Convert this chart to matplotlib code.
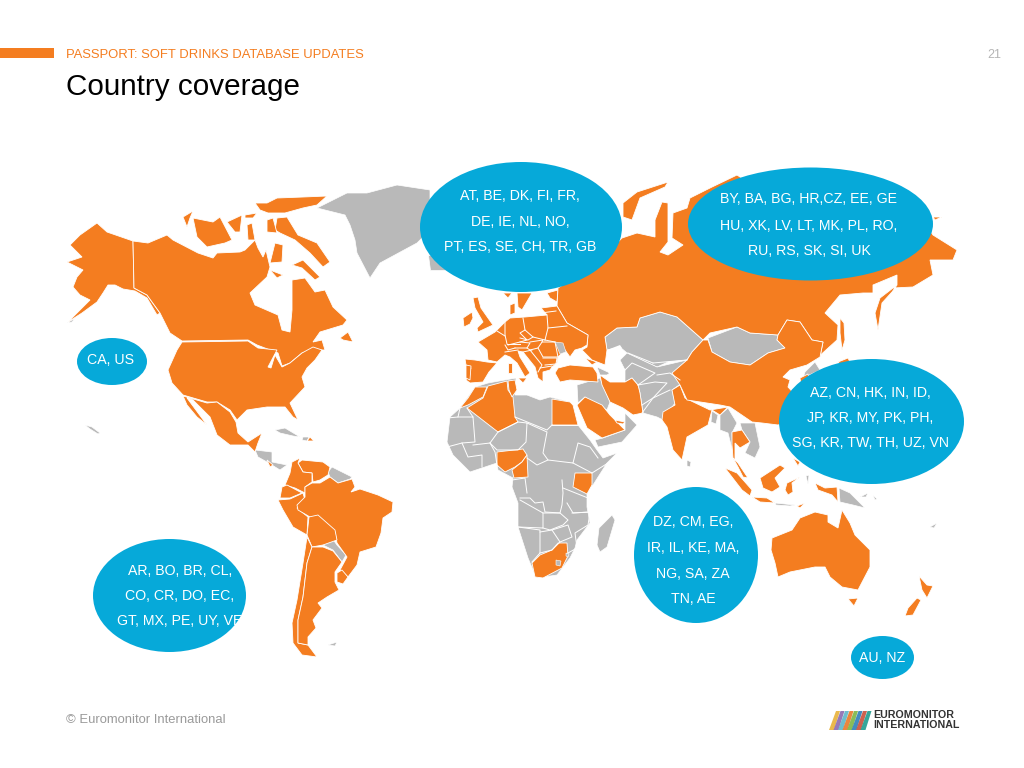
import matplotlib
matplotlib.use('Agg')
import matplotlib.pyplot as plt
from matplotlib.patches import Ellipse, Polygon, Rectangle

ORANGE = '#F47D20'
GREY = '#B9B9B9'
BLUE = '#06A9D9'

# map outlines in pixels
alaska = [(97,223),(107,232),(133,241),(134,288),(147,295),(160,313),(157,315),(147,298),(135,291),(123,289),(115,285),(108,285),(103,293),(97,302),(82,313),(68,322),(80,310),(90,300),(80,295),(73,287),(77,277),(83,270),(67,262),(82,257),(70,245),(80,235)]
canada = [(133,241),(148,243),(167,235),(173,240),(198,253),(213,258),(217,253),(240,252),(245,250),(255,240),(258,248),(263,257),(266,250),(270,267),(267,277),(250,293),(255,305),(278,315),(282,330),(290,332),(292,310),(292,280),(305,278),(315,292),(325,290),(333,307),(347,320),(343,325),(320,332),(313,342),(322,340),(325,350),(315,350),(302,353),(290,363),(282,366),(278,353),(257,345),(248,340),(182,341),(170,333),(160,313),(147,295),(134,288)]
usa = [(182,342),(248,341),(258,348),(277,350),(268,367),(271,368),(275,355),(282,367),(290,363),(302,353),(313,347),(322,350),(315,360),(307,368),(302,377),(305,387),(290,403),(298,420),(293,417),(285,407),(267,407),(247,410),(237,420),(230,410),(217,402),(207,402),(183,395),(172,383),(168,370),(177,350)]
mexico = [(183,396),(207,403),(217,402),(230,412),(236,422),(238,433),(248,442),(262,433),(258,443),(255,452),(248,445),(230,445),(217,435),(210,417),(193,400),(187,398),(207,425),(197,417),(187,405)]
ellesmere = [(255,203),(267,203),(277,198),(303,197),(327,196),(317,205),(303,208),(285,213),(268,213),(260,210)]
baffin = [(277,218),(287,217),(298,235),(317,243),(330,262),(323,267),(310,253),(295,240),(280,233),(275,230)]
baffin_south = [(292,265),(303,260),(320,277),(315,280),(302,268)]
banks = [(183,217),(193,211),(190,218),(187,227)]
victoria = [(193,218),(203,220),(213,222),(220,217),(232,240),(225,243),(207,247),(197,237)]
arctic_a = [(245,215),(257,213),(253,218),(245,218)]
arctic_b = [(227,222),(242,215),(240,232),(235,232)]
arctic_c = [(247,225),(252,223),(255,240),(248,240)]
arctic_d = [(267,220),(273,218),(277,233),(267,232)]
southampton = [(270,270),(283,275),(277,278)]
melville = [(275,243),(283,245),(282,262),(270,263)]
newfoundland = [(340,338),(348,332),(353,342),(343,340)]
dominican = [(310,437),(314,441),(307,441)]
costa_rica = [(267,460),(273,465),(270,467)]

venezuela = [(302,460),(323,462),(330,467),(328,475),(320,480),(313,482),(312,473),(303,472),(298,463)]
colombia = [(292,462),(300,458),(298,463),(303,472),(312,473),(312,482),(305,487),(305,493),(295,488),(285,485),(290,473)]
ecuador = [(282,487),(287,485),(302,493),(290,498),(280,498)]
peru = [(278,500),(290,499),(303,493),(305,500),(297,508),(308,517),(307,535),(293,527),(283,510)]
brazil = [(305,497),(305,487),(312,483),(320,483),(330,477),(338,483),(352,479),(355,487),(351,492),(360,489),(378,495),(393,502),(392,512),(383,518),(381,533),(376,547),(360,552),(357,565),(348,577),(340,570),(347,557),(337,543),(335,532),(320,518),(310,517),(298,510),(297,505)]
bolivia = [(309,517),(318,515),(335,530),(337,540),(323,545),(312,547),(307,535)]
chile = [(307,537),(312,547),(307,563),(303,597),(298,620),(298,643),(308,645),(317,657),(302,655),(293,643),(292,623),(297,600),(303,563)]
argentina = [(312,547),(323,547),(333,551),(342,562),(335,572),(335,582),(339,590),(327,597),(318,603),(322,608),(313,620),(316,628),(308,637),(308,645),(298,643),(298,620),(303,597),(307,563)]
uruguay = [(337,573),(342,570),(348,577),(343,584),(337,582)]

spain = [(465,359),(475,360),(487,362),(497,363),(489,372),(483,382),(470,383),(466,380),(471,368),(466,365)]
portugal = [(466,365),(471,366),(470,380),(466,378)]
europe_land = [(541,308),(557,306),(567,323),(588,335),(587,345),(582,348),(575,350),(570,357),(565,350),(558,357),(557,363),(552,367),(550,370),(543,372),(543,382),(538,378),(535,367),(523,352),(518,351),(520,357),(530,373),(525,377),(517,363),(510,357),(505,355),(497,362),(488,360),(487,350),(478,342),(495,332),(505,322),(510,318),(525,317),(547,315)]
britain = [(473,298),(478,297),(481,308),(488,318),(493,325),(478,332),(477,328),(483,322),(475,308)]
ireland = [(463,318),(472,312),(473,318),(470,324),(464,327)]
denmark = [(510,305),(515,303),(515,313),(510,315)]
sweden = [(517,293),(532,293),(522,310),(518,307)]
norway = [(503,293),(512,293),(508,298)]
finland = [(547,293),(558,290),(557,302),(550,298)]
sicily = [(518,378),(527,378),(523,383)]
sardinia = [(508,363),(512,363),(512,373),(508,373)]
turkey = [(558,368),(570,365),(593,367),(597,373),(598,382),(570,380),(560,382),(555,373)]
georgia = [(585,358),(597,362),(592,365)]
russia = [(558,288),(557,306),(567,323),(588,335),(587,347),(582,350),(592,360),(605,365),(607,350),(605,337),(617,328),(637,327),(640,318),(660,312),(677,317),(703,340),(710,333),(737,327),(750,333),(778,335),(787,320),(800,322),(812,340),(823,342),(820,357),(815,360),(837,340),(838,325),(825,313),(840,295),(863,293),(873,293),(873,285),(897,275),(897,285),(892,292),(882,303),(878,330),(875,313),(880,298),(893,288),(913,287),(933,275),(930,260),(953,260),(957,250),(933,235),(920,215),(850,200),(760,190),(737,175),(712,187),(690,198),(687,208),(673,213),(672,238),(683,245),(668,255),(660,252),(668,242),(668,203),(662,202),(655,220),(655,237),(637,233),(622,238),(600,260),(570,280)]
novaya = [(623,203),(637,192),(668,182),(665,187),(640,198),(632,220),(623,217)]
sakhalin = [(840,318),(844,323),(845,340),(842,350),(840,333)]
east_tip = [(933,217),(942,217),(935,220)]
hokkaido = [(838,362),(848,358),(850,362),(842,366)]
korea_south = [(800,378),(808,374),(811,390),(802,392)]

morocco = [(475,387),(487,387),(483,397),(468,405),(460,408),(468,398)]
algeria = [(488,386),(507,381),(508,390),(513,397),(515,417),(518,422),(498,432),(467,408),(483,398)]
tunisia = [(508,381),(515,380),(517,390),(512,397),(509,390)]
egypt = [(552,399),(570,402),(573,405),(578,425),(552,425)]
nigeria = [(497,452),(523,449),(527,455),(522,462),(515,467),(505,472),(497,465)]
cameroon = [(527,455),(528,477),(514,478),(512,470),(522,462)]
kenya = [(575,473),(592,473),(592,485),(587,494),(573,487)]
south_africa = [(540,555),(552,550),(558,543),(567,543),(568,556),(562,568),(543,578),(535,577),(532,563)]
iran = [(600,375),(610,382),(625,382),(632,378),(638,385),(640,393),(643,413),(633,415),(623,408),(610,402),(602,385)]
saudi = [(577,405),(585,397),(602,405),(610,415),(625,430),(602,438),(587,428)]
uae = [(615,420),(625,422),(623,424),(617,423)]
india = [(680,385),(685,398),(710,410),(728,407),(720,415),(712,410),(708,425),(687,437),(682,460),(673,450),(667,427),(662,420),(663,412),(675,405),(672,390)]
china = [(703,340),(708,340),(712,352),(730,362),(750,365),(768,353),(785,348),(777,340),(778,335),(787,320),(800,322),(812,340),(823,342),(820,357),(807,365),(790,370),(783,377),(790,380),(788,387),(800,400),(795,420),(778,425),(762,423),(752,422),(730,407),(720,405),(687,400),(680,385),(672,373),(687,360),(692,352)]
thailand = [(732,432),(742,430),(750,442),(740,448),(735,443),(735,460),(733,458),(732,445)]
malaya = [(733,458),(738,463),(748,478),(743,477),(738,467)]
sumatra = [(725,468),(737,473),(752,490),(750,496),(742,490)]
java = [(752,497),(767,498),(775,503),(760,502)]
borneo = [(760,478),(780,465),(785,468),(775,478),(780,487),(772,492),(763,488)]
sulawesi = [(787,483),(800,477),(792,483),(793,492),(788,495),(785,490)]
philippines = [(793,458),(800,462),(798,466)]
papua = [(815,483),(825,488),(837,487),(838,502),(832,495),(818,490)]
timor = [(797,506),(805,503),(800,508)]
australia = [(772,538),(792,530),(800,518),(815,512),(828,515),(828,522),(838,528),(842,510),(850,523),(855,535),(870,550),(870,567),(858,590),(842,587),(830,577),(825,567),(815,567),(790,572),(778,577),(775,563),(771,550)]
tasmania = [(848,599),(858,598),(854,606)]
nz_north = [(919,576),(927,585),(933,586),(927,598),(922,590)]
nz_south = [(917,598),(921,600),(913,615),(905,616),(908,608)]

greenland = [(317,208),(347,193),(367,193),(397,185),(430,190),(430,230),(417,243),(380,263),(370,278),(357,253),(355,240),(350,225),(345,215)]
iceland = [(428,255),(445,255),(445,270),(430,270)]
kazakhstan = [(605,337),(617,328),(637,327),(640,318),(660,312),(677,317),(703,340),(692,352),(687,360),(668,362),(657,367),(627,353),(620,347),(607,350)]
central_asia = [(620,360),(627,353),(657,367),(687,360),(675,373),(682,383),(672,390),(675,403),(665,417),(663,420),(657,417),(643,413),(640,393),(638,385),(632,378),(625,382),(625,370)]
mongolia = [(708,338),(737,327),(750,333),(778,335),(777,340),(785,348),(768,353),(750,365),(730,362),(712,352)]
levant = [(577,385),(600,378),(610,402),(607,410),(592,402),(585,397),(578,403)]
caucasus = [(597,367),(610,373),(607,375),(600,375)]
arabia_south = [(625,413),(637,425),(622,442),(598,447),(595,440),(603,438),(625,430)]
moldova = [(555,342),(563,343),(566,352),(560,354)]
africa = [(460,408),(450,417),(447,442),(453,455),(470,472),(497,463),(498,470),(513,478),(512,487),(518,503),(518,527),(528,558),(533,570),(537,578),(557,575),(570,558),(575,548),(577,540),(590,523),(587,507),(587,490),(593,485),(607,463),(617,453),(603,458),(597,450),(590,440),(578,425),(573,405),(570,402),(550,397),(540,400),(527,395),(515,395),(516,378),(488,383),(475,387)]
madagascar = [(612,515),(615,520),(607,547),(600,552),(597,545),(599,528)]
guyanas = [(328,472),(332,467),(352,477),(350,479),(338,483),(330,477)]
paraguay = [(323,545),(332,538),(337,545),(346,555),(342,562),(333,550)]
falklands = [(328,645),(337,642),(335,646)]
central_america = [(255,450),(272,452),(272,462),(287,465),(280,470),(267,462),(258,457)]
cuba = [(275,430),(285,428),(300,437),(293,436),(280,433)]
haiti = [(303,437),(309,437),(307,441),(302,440)]
nepal = [(687,402),(708,410),(706,412),(688,406)]
bangladesh = [(712,411),(718,415),(716,424),(711,422)]
myanmar = [(720,415),(728,408),(737,423),(732,433),(733,453),(728,433),(720,430)]
indochina = [(740,423),(755,423),(760,447),(755,458),(745,453),(750,442),(742,430)]
sri_lanka = [(687,460),(691,462),(690,467),(687,466)]
north_korea = [(805,372),(815,362),(820,370),(803,378)]
png = [(839,488),(850,493),(865,508),(853,505),(840,502)]
sunda = [(775,503),(795,505),(790,506),(776,505)]
maluku = [(806,476),(809,475),(808,484)]
new_britain = [(860,497),(868,493),(866,497)]
solomon = [(873,495),(877,499),(875,500)]
new_caledonia = [(930,527),(937,523),(934,528)]
hawaii = [(85,425),(92,427),(100,433),(98,434),(90,429)]
aleutians = [(67,323),(75,318),(72,322)]
lesotho = [(556,560),(561,561),(560,566),(556,565)]
swaziland = [(566,553),(569,554),(568,557),(566,556)]
caspian = [(607,350),(620,345),(622,348),(613,357),(620,363),(625,370),(623,382),(612,382),(607,368)]

# country borders inside Europe
eu_a = [(505,322),(505,335),(507,344)]
eu_b = [(497,331),(505,336)]
eu_c = [(523,318),(525,330),(520,333),(527,340),(520,342)]
eu_d = [(507,344),(520,344)]
eu_e = [(547,315),(548,328),(545,340)]
eu_f = [(525,330),(533,337),(545,340)]
eu_g = [(520,338),(528,340),(533,337)]
eu_h = [(508,345),(520,342),(530,343),(527,348),(515,348)]
eu_i = [(505,345),(508,350),(515,348)]
eu_j = [(505,352),(518,350)]
eu_k = [(530,342),(543,340),(542,342),(538,348),(530,350),(527,348)]
eu_l = [(542,342),(555,342),(558,357),(543,357),(538,348)]
eu_m = [(543,358),(557,358),(556,364),(545,365)]
eu_n = [(530,350),(542,365),(538,372)]
eu_o = [(523,352),(532,350)]
eu_p = [(540,368),(552,366)]
eu_q = [(548,328),(567,326)]
eu_r = [(541,313),(556,311)]
eu_s = [(545,340),(555,342)]

# country borders on the grey land
af_a = [(460,408),(458,417),(447,418)]
af_b = [(458,417),(473,417),(475,442),(462,443),(447,447)]
af_c = [(467,408),(473,417)]
af_d = [(498,432),(490,443),(473,445)]
af_e = [(498,432),(518,422),(527,423),(526,442),(518,450),(497,450),(490,443)]
af_f = [(515,417),(547,430),(552,425)]
af_g = [(527,423),(547,432),(543,453),(548,460),(537,465),(527,458)]
af_h = [(552,425),(578,425)]
af_i = [(548,460),(573,463),(578,443),(590,447),(598,458)]
af_j = [(573,463),(592,473),(608,463)]
af_k = [(462,443),(468,457),(482,455),(482,467)]
af_l = [(490,443),(495,452),(497,465)]
af_m = [(512,480),(525,478),(527,493)]
af_n = [(520,498),(530,498),(535,503),(543,502),(545,512),(560,513),(562,505),(563,493),(562,480)]
af_o = [(520,500),(543,513),(543,528),(518,527)]
af_p = [(543,513),(560,513),(568,520),(563,525),(550,530),(543,528)]
af_q = [(518,527),(540,530),(540,553),(532,562)]
af_r = [(540,532),(552,530),(560,542),(552,550),(540,553)]
af_s = [(552,530),(568,525),(572,537),(560,542)]
af_t = [(563,488),(588,498),(590,512),(573,513),(567,503)]
af_u = [(572,513),(590,512),(588,525),(575,533),(577,548),(568,553)]
as_a = [(628,353),(653,363)]
as_b = [(625,370),(632,363),(655,373),(638,385)]
as_c = [(657,375),(670,373),(680,380)]
as_d = [(638,385),(655,382),(667,383),(653,398),(642,405)]
as_e = [(642,413),(653,398),(670,390)]
as_f = [(653,363),(687,360)]

orange_shapes = [alaska, canada, usa, mexico, ellesmere, baffin, baffin_south, banks, victoria,
                 arctic_a, arctic_b, arctic_c, arctic_d, southampton, melville, newfoundland,
                 dominican, costa_rica, venezuela, colombia, ecuador, peru, brazil, bolivia, chile,
                 argentina, uruguay, spain, portugal, britain, ireland, denmark, sweden, norway,
                 finland, sicily, sardinia, turkey, georgia, russia, novaya, sakhalin, east_tip,
                 hokkaido, korea_south, morocco, algeria, tunisia, egypt, nigeria, cameroon, kenya,
                 south_africa, iran, saudi, uae, india, china, thailand, malaya, sumatra, java, borneo,
                 sulawesi, philippines, papua, timor, australia, tasmania, nz_north, nz_south,
                 europe_land]
grey_shapes = [greenland, iceland, kazakhstan, central_asia, mongolia, levant, caucasus, arabia_south,
               africa, madagascar, guyanas, paraguay, falklands, central_america, cuba, haiti, nepal,
               bangladesh, myanmar, indochina, sri_lanka, north_korea, png, sunda, maluku,
               new_britain, solomon, new_caledonia, hawaii, aleutians]
grey_on_top = [moldova, lesotho, swaziland]
borders = [eu_a, eu_b, eu_c, eu_d, eu_e, eu_f, eu_g, eu_h, eu_i, eu_j, eu_k, eu_l, eu_m, eu_n, eu_o,
           eu_p, eu_q, eu_r, eu_s, af_a, af_b, af_c, af_d, af_e, af_f, af_g, af_h, af_i, af_j, af_k,
           af_l, af_m, af_n, af_o, af_p, af_q, af_r, af_s, af_t, af_u, as_a, as_b, as_c, as_d, as_e, as_f]

north_america_codes = ['CA, US']
europe_west_codes = ['AT, BE, DK, FI, FR,', 'DE, IE, NL, NO,', 'PT, ES, SE, CH, TR, GB']
europe_east_codes = ['BY, BA, BG, HR,CZ, EE, GE', 'HU, XK, LV, LT, MK, PL, RO,', 'RU, RS, SK, SI, UK']
asia_codes = ['AZ, CN, HK, IN, ID,', 'JP, KR, MY, PK, PH,', 'SG, KR, TW, TH, UZ, VN']
mea_codes = ['DZ, CM, EG,', 'IR, IL, KE, MA,', 'NG, SA, ZA', 'TN, AE']
latam_codes = ['AR, BO, BR, CL,', 'CO, CR, DO, EC,', 'GT, MX, PE, UY, VE']
oceania_codes = ['AU, NZ']

logo_colours = ['#E8B23A', '#8C6BB1', '#5FB7C9', '#E8792B', '#7DB545', '#2F7FB8', '#C9503C', '#1F9C8F']

plt.rcParams['font.family'] = ['Liberation Sans', 'DejaVu Sans']

fig = plt.figure(figsize=(10.24, 7.68), dpi=100)
ax = fig.add_axes([0, 0, 1, 1])
ax.set_xlim(0, 1024)
ax.set_ylim(768, 0)
ax.axis('off')

for shape in grey_shapes:
    ax.add_patch(Polygon(shape, closed=True, facecolor=GREY, edgecolor='white', linewidth=0.5, zorder=2))
ax.add_patch(Polygon(caspian, closed=True, facecolor='white', edgecolor='none', zorder=2.5))
for shape in orange_shapes:
    ax.add_patch(Polygon(shape, closed=True, facecolor=ORANGE, edgecolor='white', linewidth=0.6, zorder=3))
for shape in grey_on_top:
    ax.add_patch(Polygon(shape, closed=True, facecolor=GREY, edgecolor='white', linewidth=0.4, zorder=3.5))
for line in borders:
    ax.plot([p[0] for p in line], [p[1] for p in line], color='white', linewidth=0.7, zorder=3.2)


def bubble(cx, cy, w, h, lines, text_x, text_ys):
    ax.add_patch(Ellipse((cx, cy), w, h, facecolor=BLUE, edgecolor='none', zorder=5))
    for txt, y in zip(lines, text_ys):
        ax.text(text_x, y + 1.2, txt, color='white', fontsize=10.2, ha='center', va='center', zorder=6)


bubble(112, 361.5, 70, 47, north_america_codes, 111, [359])
bubble(521, 227, 202, 130, europe_west_codes, 520, [195, 221, 246])
bubble(810.5, 224, 245, 113, europe_east_codes, 809, [198, 225, 250])
bubble(871.5, 421.5, 185, 125, asia_codes, 870, [392, 417, 442])
bubble(696, 555, 124, 136, mea_codes, 693, [521, 547, 573, 598])
bubble(169.5, 595.5, 153, 113, latam_codes, 180, [570, 595, 620])
bubble(882.5, 657.5, 63, 43, oceania_codes, 882, [657])

# header and footer
ax.add_patch(Rectangle((0, 48), 54, 10, facecolor=ORANGE, edgecolor='none'))
ax.text(66, 54.5, 'PASSPORT: SOFT DRINKS DATABASE UPDATES', color=ORANGE, fontsize=9.35, va='center')
ax.text(66, 87, 'Country coverage', color='black', fontsize=21.3, va='center')
ax.text(1001, 54.5, '21', color='#B5B5B5', fontsize=9, va='center', ha='right')
ax.text(66, 720, '\u00a9 Euromonitor International', color='#9A9A9A', fontsize=9.35, va='center')

# logo
for i, colour in enumerate(logo_colours):
    x0 = 829 + i * 4.5
    ax.add_patch(Polygon([(x0, 730), (x0 + 5, 730), (x0 + 11, 711), (x0 + 7, 711)], closed=True,
                         facecolor=colour, edgecolor='none', alpha=0.9))
ax.text(873, 714.5, 'EUROMONITOR', color='#333333', fontsize=7.7, fontweight='bold', va='center')
ax.text(873, 725.5, 'INTERNATIONAL', color='#333333', fontsize=7.7, fontweight='bold', va='center')

fig.savefig('out.png', dpi=100)
